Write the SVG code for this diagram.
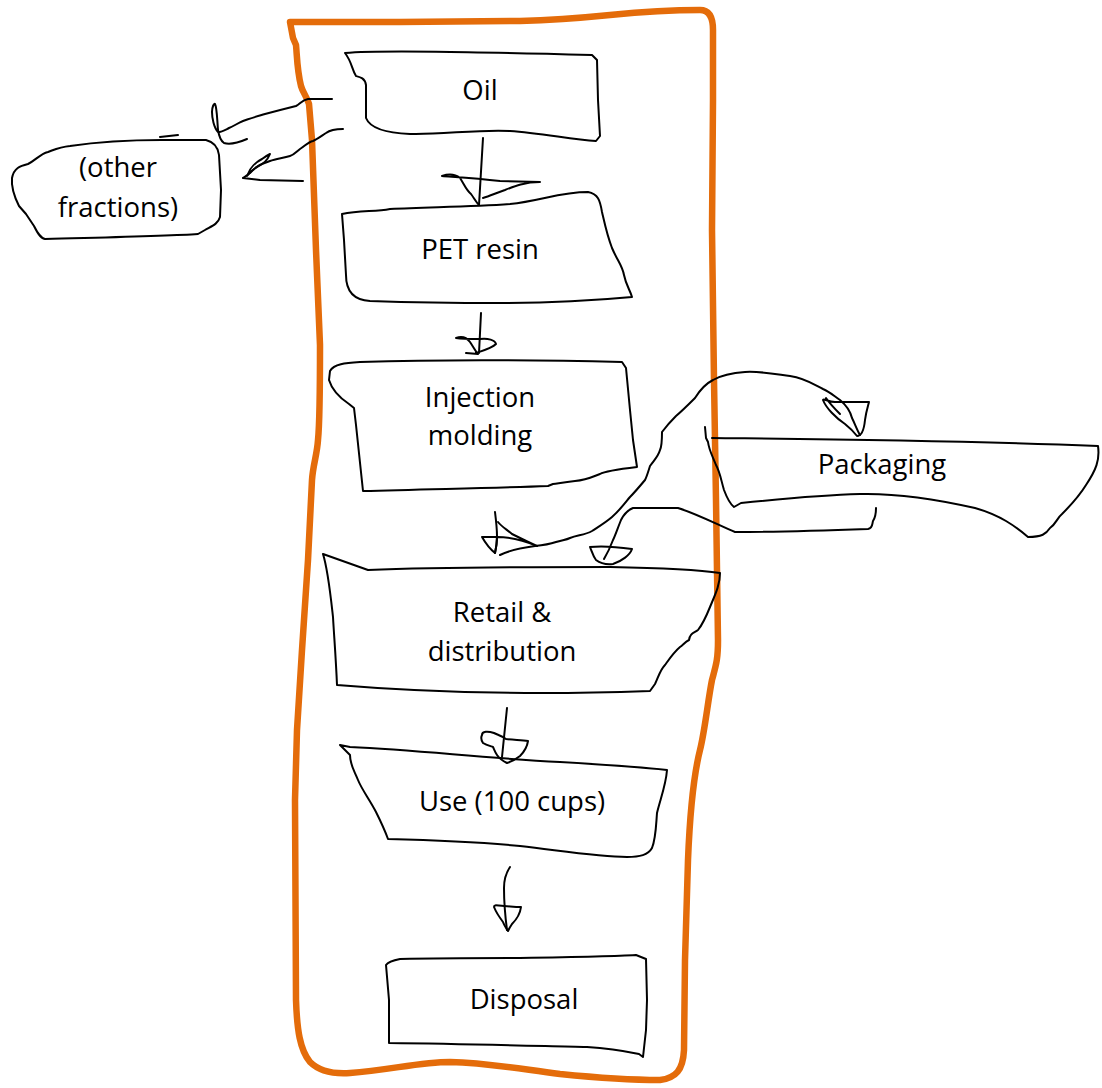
<svg xmlns="http://www.w3.org/2000/svg" width="1102" height="1088" viewBox="0 0 1102 1088">
<style>
.ink{fill:none;stroke:#000;stroke-width:2;stroke-linejoin:round;stroke-linecap:round}
.bound{fill:none;stroke:#E46C0A;stroke-width:6.5;stroke-linejoin:round;stroke-linecap:round}
.lbl{font-family:"Open Sans","Noto Sans","Liberation Sans",sans-serif;font-size:27.5px;fill:#000;text-anchor:middle}
</style>
<rect width="1102" height="1088" fill="#fff"/>
<g id="boundary">
<path class="bound" d="M290,22 L293,38 L296,45 C297,55 297,70 301,86 C303,93 307,97 309,104 L312,140 L316,250 L320,345 C320,380 320,420 318,440 C317,455 313,465 312,480 L308,560 L302,650 L297,730 L295,800 L296,1000 C297,1030 300,1050 310,1062 C320,1072 335,1074 350,1073 C390,1070 420,1062 450,1062 C490,1063 520,1069 560,1074 C590,1077 620,1080 660,1080 C676,1078 683,1070 684,1050 L685,960 L688,860 C690,810 695,770 700,750 C705,730 708,700 712,680 C716,665 718,660 718,640 L716,500 L714,380 L712,230 L713,100 L713,30 C713,16 708,10 700,10 C680,10 640,12 610,15 C580,18 560,20 520,21 L400,22 Z"/>
</g>
<g id="node-oil">
<path class="ink" d="M345,53 C380,50 470,52 592,55 L597,60 L598,100 L600,136 L596,141 C570,139 540,133 510,131 C480,129 440,135 410,134 C385,133 370,128 366,118 L366,85 C365,78 360,77 356,76 C352,70 352,62 345,53 Z"/>
<text class="lbl" x="480" y="100">Oil</text>
</g>
<g id="node-other-fractions">
<path class="ink" d="M160,137 L178,135"/>
<path class="ink" d="M162,140 L206,140 C214,142 218,147 219,155 L221,190 L220,217 C218,224 212,226 205,230 L198,234 C170,236 120,237 45,239 C40,238 37,232 34,226 L26,214 L19,206 C15,198 11,188 12,178 C14,168 20,166 28,164 C36,160 40,154 48,152 C56,149 60,147 70,146 C90,143 120,140 162,140"/>
<text class="lbl" x="118" y="177">(other</text>
<text class="lbl" x="118" y="217">fractions)</text>
</g>
<g id="node-pet">
<path class="ink" d="M342,214 C360,210 375,212 390,209 C430,207 470,207 510,204 C540,201 560,192 588,192 C598,194 600,200 602,212 C605,225 607,235 612,248 C618,262 622,265 624,275 C626,285 630,290 632,297 C600,300 560,303 500,303 C440,303 400,302 370,301 C352,300 346,290 346,275 L344,240 Z"/>
<text class="lbl" x="480" y="259">PET resin</text>
</g>
<g id="node-injection">
<path class="ink" d="M330,371 C334,364 345,363 360,362 C420,360 500,359 622,362 L626,368 L630,410 L633,440 L637,467 C620,469 605,471 600,474 C592,477 587,480 575,481 C565,482 560,483 553,484 L548,486 C500,488 430,489 363,491 L356,425 L354,408 L349,404 C340,398 332,390 329,380 Z"/>
<text class="lbl" x="480" y="407">Injection</text>
<text class="lbl" x="480" y="445">molding</text>
</g>
<g id="node-packaging">
<path class="ink" d="M712,438 C800,439 950,440 1098,446 C1100,460 1096,470 1086,485 C1078,498 1070,506 1062,514 C1057,518 1056,524 1050,528 C1046,534 1042,537 1028,537 C1015,526 1000,515 975,508 C940,500 900,493 860,494 C820,495 780,499 741,503 L734,507 C730,504 727,498 724,490 C721,480 720,472 716,465 C712,455 709,450 708,442 L706,438 L705,427"/>
<text class="lbl" x="882" y="474">Packaging</text>
</g>
<g id="node-retail">
<path class="ink" d="M323,554 L368,570 C420,568 500,567 610,567 C660,568 700,570 720,573 C720,585 715,595 710,607 C706,617 702,625 698,630 C694,633 690,633 689,640 C685,642 683,645 680,647 C674,652 670,658 665,665 C660,670 658,678 655,684 L650,691 C620,692 580,693 543,693 C480,693 420,692 337,685 C336,660 334,635 333,617 C330,590 328,570 323,554 Z"/>
<text class="lbl" x="502" y="622">Retail &amp;</text>
<text class="lbl" x="502" y="661">distribution</text>
</g>
<g id="node-use">
<path class="ink" d="M340,745 L350,747 C420,750 480,758 560,762 C610,765 640,767 667,770 C666,785 660,800 657,813 C656,825 656,838 652,848 C648,855 640,857 627,857 C600,857 570,852 520,846 C480,842 430,840 388,839 C384,828 380,820 376,812 C370,800 362,790 358,780 C354,770 350,765 350,755 Z"/>
<text class="lbl" x="512" y="811">Use (100 cups)</text>
</g>
<g id="node-disposal">
<path class="ink" d="M386,965 C388,962 395,960 400,959 C440,958 500,958 520,958 C580,957 620,956 636,955 L646,959 L647,1000 L646,1030 L643,1057 L639,1054 C620,1050 605,1048 587,1047 C540,1046 470,1044 389,1043 L389,1000 Z"/>
<text class="lbl" x="524" y="1009">Disposal</text>
</g>
<g id="connectors">
<path class="ink" d="M332,99 L308,99 C302,100 300,104 296,106 C288,108 280,110 265,114 C255,117 248,119 243,121 C238,123 234,126 229,128 C225,130 222,132 218,132 C214,128 212,118 212,112 C212,107 214,103 215,104 C217,108 217,118 218,130 C219,136 221,141 224,143 C230,145 240,142 247,139"/>
<path class="ink" d="M343,129 C335,129 330,130 326,133 C320,137 316,140 313,141 C308,142 305,146 300,149 C296,152 294,155 290,156 C283,158 276,159 270,161 C264,163 261,164 258,166 C254,169 252,171 250,173 C247,175 245,177 243,178 L260,180 L303,181"/>
<path class="ink" d="M248,174 C250,168 256,162 262,159 C266,156 270,154 270,154 C268,159 264,164 257,167 C253,169 250,172 247,176"/>
<path class="ink" d="M483,138 L479,205"/>
<path class="ink" d="M442,176 C448,174 455,174 460,178 C464,184 466,190 471,194 C474,198 476,202 479,205 M483,198 C490,196 496,193 505,190 C515,186 525,182 540,182 L500,181 C475,178 455,177 442,176"/>
<path class="ink" d="M481,313 L479,353"/>
<path class="ink" d="M456,338 C462,336 467,338 470,342 C474,348 476,352 478,354 L466,353 M476,353 C485,350 492,348 496,344 C495,340 488,338 480,339 C470,339 462,339 456,338"/>
<path class="ink" d="M495,512 C496,520 497,530 497,536 C497,543 496,549 495,553"/>
<path class="ink" d="M482,537 C486,544 490,549 495,553 C496,548 497,542 497,537 C510,537 525,541 537,546 C530,543 520,538 512,534 C506,529 501,526 498,522 M497,537 L482,537"/>
<path class="ink" d="M500,555 C510,550 520,548 535,546 C545,545 550,544 556,542 C562,540 566,540 570,538 C578,535 585,535 592,531 C598,527 605,523 612,517 C620,510 625,503 630,497 C635,492 640,486 645,480 C647,476 648,472 650,466 C654,460 658,457 660,450 C662,446 662,442 662,432 C665,428 670,422 676,416 C682,411 688,405 695,398 C700,390 705,384 713,380 C720,376 730,373 745,372 C760,371 775,374 790,376 C805,378 815,385 823,389 C830,392 834,396 840,400 C846,405 850,410 852,418 C855,424 857,430 860,435"/>
<path class="ink" d="M823,400 C826,408 836,418 845,424 C850,428 854,432 857,436 C862,436 864,430 865,420 C866,412 868,406 869,402 L835,402 C828,402 824,398 823,400 Z M826,398 C830,404 836,410 840,414"/>
<path class="ink" d="M876,508 C876,514 875,518 873,521 C872,524 873,528 868,529 C840,530 780,532 735,532 C720,526 700,515 678,508 L633,508 C628,510 624,514 621,520 C617,530 615,536 613,540 C610,548 607,554 604,559"/>
<path class="ink" d="M590,547 C600,546 618,547 632,549 C630,555 622,561 613,564 C605,565 600,563 596,560 C593,556 592,552 590,547 Z"/>
<path class="ink" d="M507,708 L502,757"/>
<path class="ink" d="M482,735 C482,731 488,731 494,733 C498,735 502,736 506,739 C515,740 522,740 528,741 C527,748 524,752 520,756 C515,760 510,762 507,763 C503,761 499,758 497,755 C495,752 494,749 493,747 C490,746 486,745 483,743 C481,740 481,737 482,735 Z"/>
<path class="ink" d="M510,867 C506,873 504,880 504,888 C504,900 505,915 507,930"/>
<path class="ink" d="M494,907 C494,904 498,906 504,906 C508,906 514,907 521,907 C520,915 516,920 512,924 C510,927 509,929 508,931 C506,928 504,925 503,922 C500,918 496,912 494,907 Z"/>
</g>
</svg>
